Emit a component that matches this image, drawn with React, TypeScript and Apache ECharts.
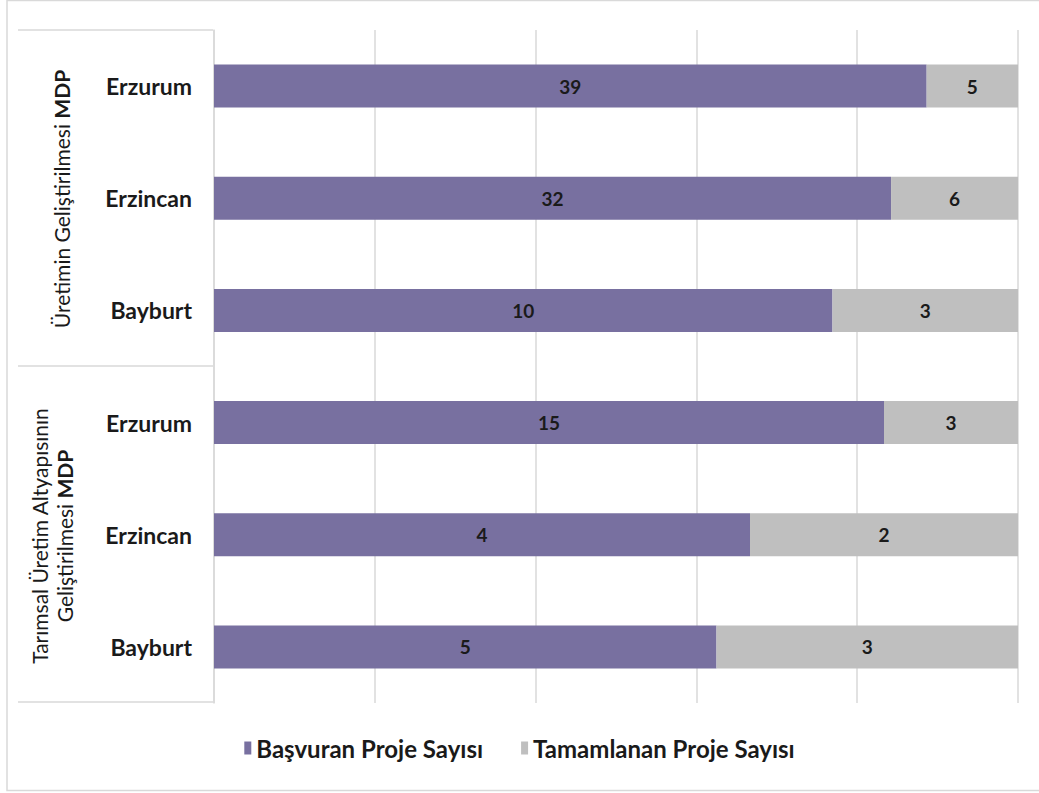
import React, { useEffect, useRef } from "react";
import * as echarts from "echarts";

const categories = ["Erzurum", "Erzincan", "Bayburt", "Erzurum", "Erzincan", "Bayburt"];
const basvuran = [39, 32, 10, 15, 4, 5];
const tamamlanan = [5, 6, 3, 3, 2, 3];
const seriesNames = ["Başvuran Proje Sayısı", "Tamamlanan Proje Sayısı"];
const xTicks = [0, 20, 40, 60, 80, 100];

const FONT = "Lato, 'Open Sans', sans-serif";

export default function App() {
  const ref = useRef<HTMLDivElement>(null);
  useEffect(() => {
    if (!ref.current) return;
    const chart = echarts.init(ref.current, undefined, { renderer: "svg" });
    const totals = basvuran.map((v, i) => v + tamamlanan[i]);
    const pctA = basvuran.map((v, i) => (v / totals[i]) * 100);
    const pctB = tamamlanan.map((v, i) => (v / totals[i]) * 100);
    const raw = [basvuran, tamamlanan];
    const labelCfg = (si: number) => ({
      show: true,
      position: "inside" as const,
      color: "#1a1a1a",
      fontFamily: FONT,
      fontWeight: "bold" as const,
      fontSize: 19,
      formatter: (p: any) => String(raw[si][p.dataIndex]),
    });
    const gridTop = 30;
    const gridBottomY = 703;
    const lineColor = "#D9D9D9";
    const groupFont = 21;
    chart.setOption({
      animation: false,
      backgroundColor: "#fff",
      textStyle: { fontFamily: FONT },
      grid: { left: 214, right: 21, top: gridTop, bottom: 793 - gridBottomY, containLabel: false },
      xAxis: {
        type: "value",
        min: xTicks[0],
        max: xTicks[xTicks.length - 1],
        interval: xTicks[1] - xTicks[0],
        axisLabel: { show: false },
        axisLine: { show: false },
        axisTick: { show: false },
        splitLine: { show: true, lineStyle: { color: lineColor, width: 1.5 } },
      },
      yAxis: {
        type: "category",
        inverse: true,
        data: categories,
        axisLine: { show: true, lineStyle: { color: lineColor, width: 1.5 } },
        axisTick: { show: false },
        axisLabel: {
          margin: 22,
          color: "#1a1a1a",
          fontFamily: FONT,
          fontWeight: "bold",
          fontSize: 23,
        },
      },
      legend: {
        bottom: 28,
        left: "center",
        itemWidth: 7,
        itemHeight: 13,
        itemGap: 38,
        icon: "rect",
        textStyle: { color: "#1a1a1a", fontFamily: FONT, fontSize: 24, fontWeight: "bold" },
        data: seriesNames,
      },
      series: [
        {
          name: seriesNames[0],
          type: "bar",
          stack: "total",
          barWidth: 43,
          itemStyle: { color: "#7870A0" },
          label: labelCfg(0),
          data: pctA,
        },
        {
          name: seriesNames[1],
          type: "bar",
          stack: "total",
          barWidth: 43,
          itemStyle: { color: "#BFBFBF" },
          label: labelCfg(1),
          data: pctB,
        },
      ],
      graphic: [
        {
          type: "rect",
          shape: { x: 7, y: 0.5, width: 1040, height: 790 },
          style: { fill: "none", stroke: lineColor, lineWidth: 1.5 },
          silent: true,
        },
        {
          type: "line",
          shape: { x1: 18, y1: gridTop, x2: 213, y2: gridTop },
          style: { stroke: lineColor, lineWidth: 1.5 },
        },
        {
          type: "line",
          shape: { x1: 18, y1: 366, x2: 213, y2: 366 },
          style: { stroke: lineColor, lineWidth: 1.5 },
        },
        {
          type: "line",
          shape: { x1: 18, y1: 702, x2: 213, y2: 702 },
          style: { stroke: lineColor, lineWidth: 1.5 },
        },
        {
          type: "text",
          x: 61,
          y: 199,
          rotation: Math.PI / 2,
          style: {
            text: "Üretimin Geliştirilmesi {b|MDP}",
            align: "center",
            verticalAlign: "middle",
            fill: "#1a1a1a",
            fontFamily: FONT,
            fontSize: groupFont,
            rich: { b: { fontWeight: "bold", fontFamily: FONT, fontSize: groupFont, fill: "#1a1a1a" } },
          },
        },
        {
          type: "text",
          x: 39,
          y: 536,
          rotation: Math.PI / 2,
          style: {
            text: "Tarımsal Üretim Altyapısının",
            align: "center",
            verticalAlign: "middle",
            fill: "#1a1a1a",
            fontFamily: FONT,
            fontSize: groupFont,
          },
        },
        {
          type: "text",
          x: 64,
          y: 536,
          rotation: Math.PI / 2,
          style: {
            text: "Geliştirilmesi {b|MDP}",
            align: "center",
            verticalAlign: "middle",
            fill: "#1a1a1a",
            fontFamily: FONT,
            fontSize: groupFont,
            rich: { b: { fontWeight: "bold", fontFamily: FONT, fontSize: groupFont, fill: "#1a1a1a" } },
          },
        },
      ],
    });
    return () => chart.dispose();
  }, []);
  return (
    <div
      ref={ref}
      style={{ position: "fixed", left: 0, top: 0, width: 1039, height: 793, background: "#fff" }}
    />
  );
}
